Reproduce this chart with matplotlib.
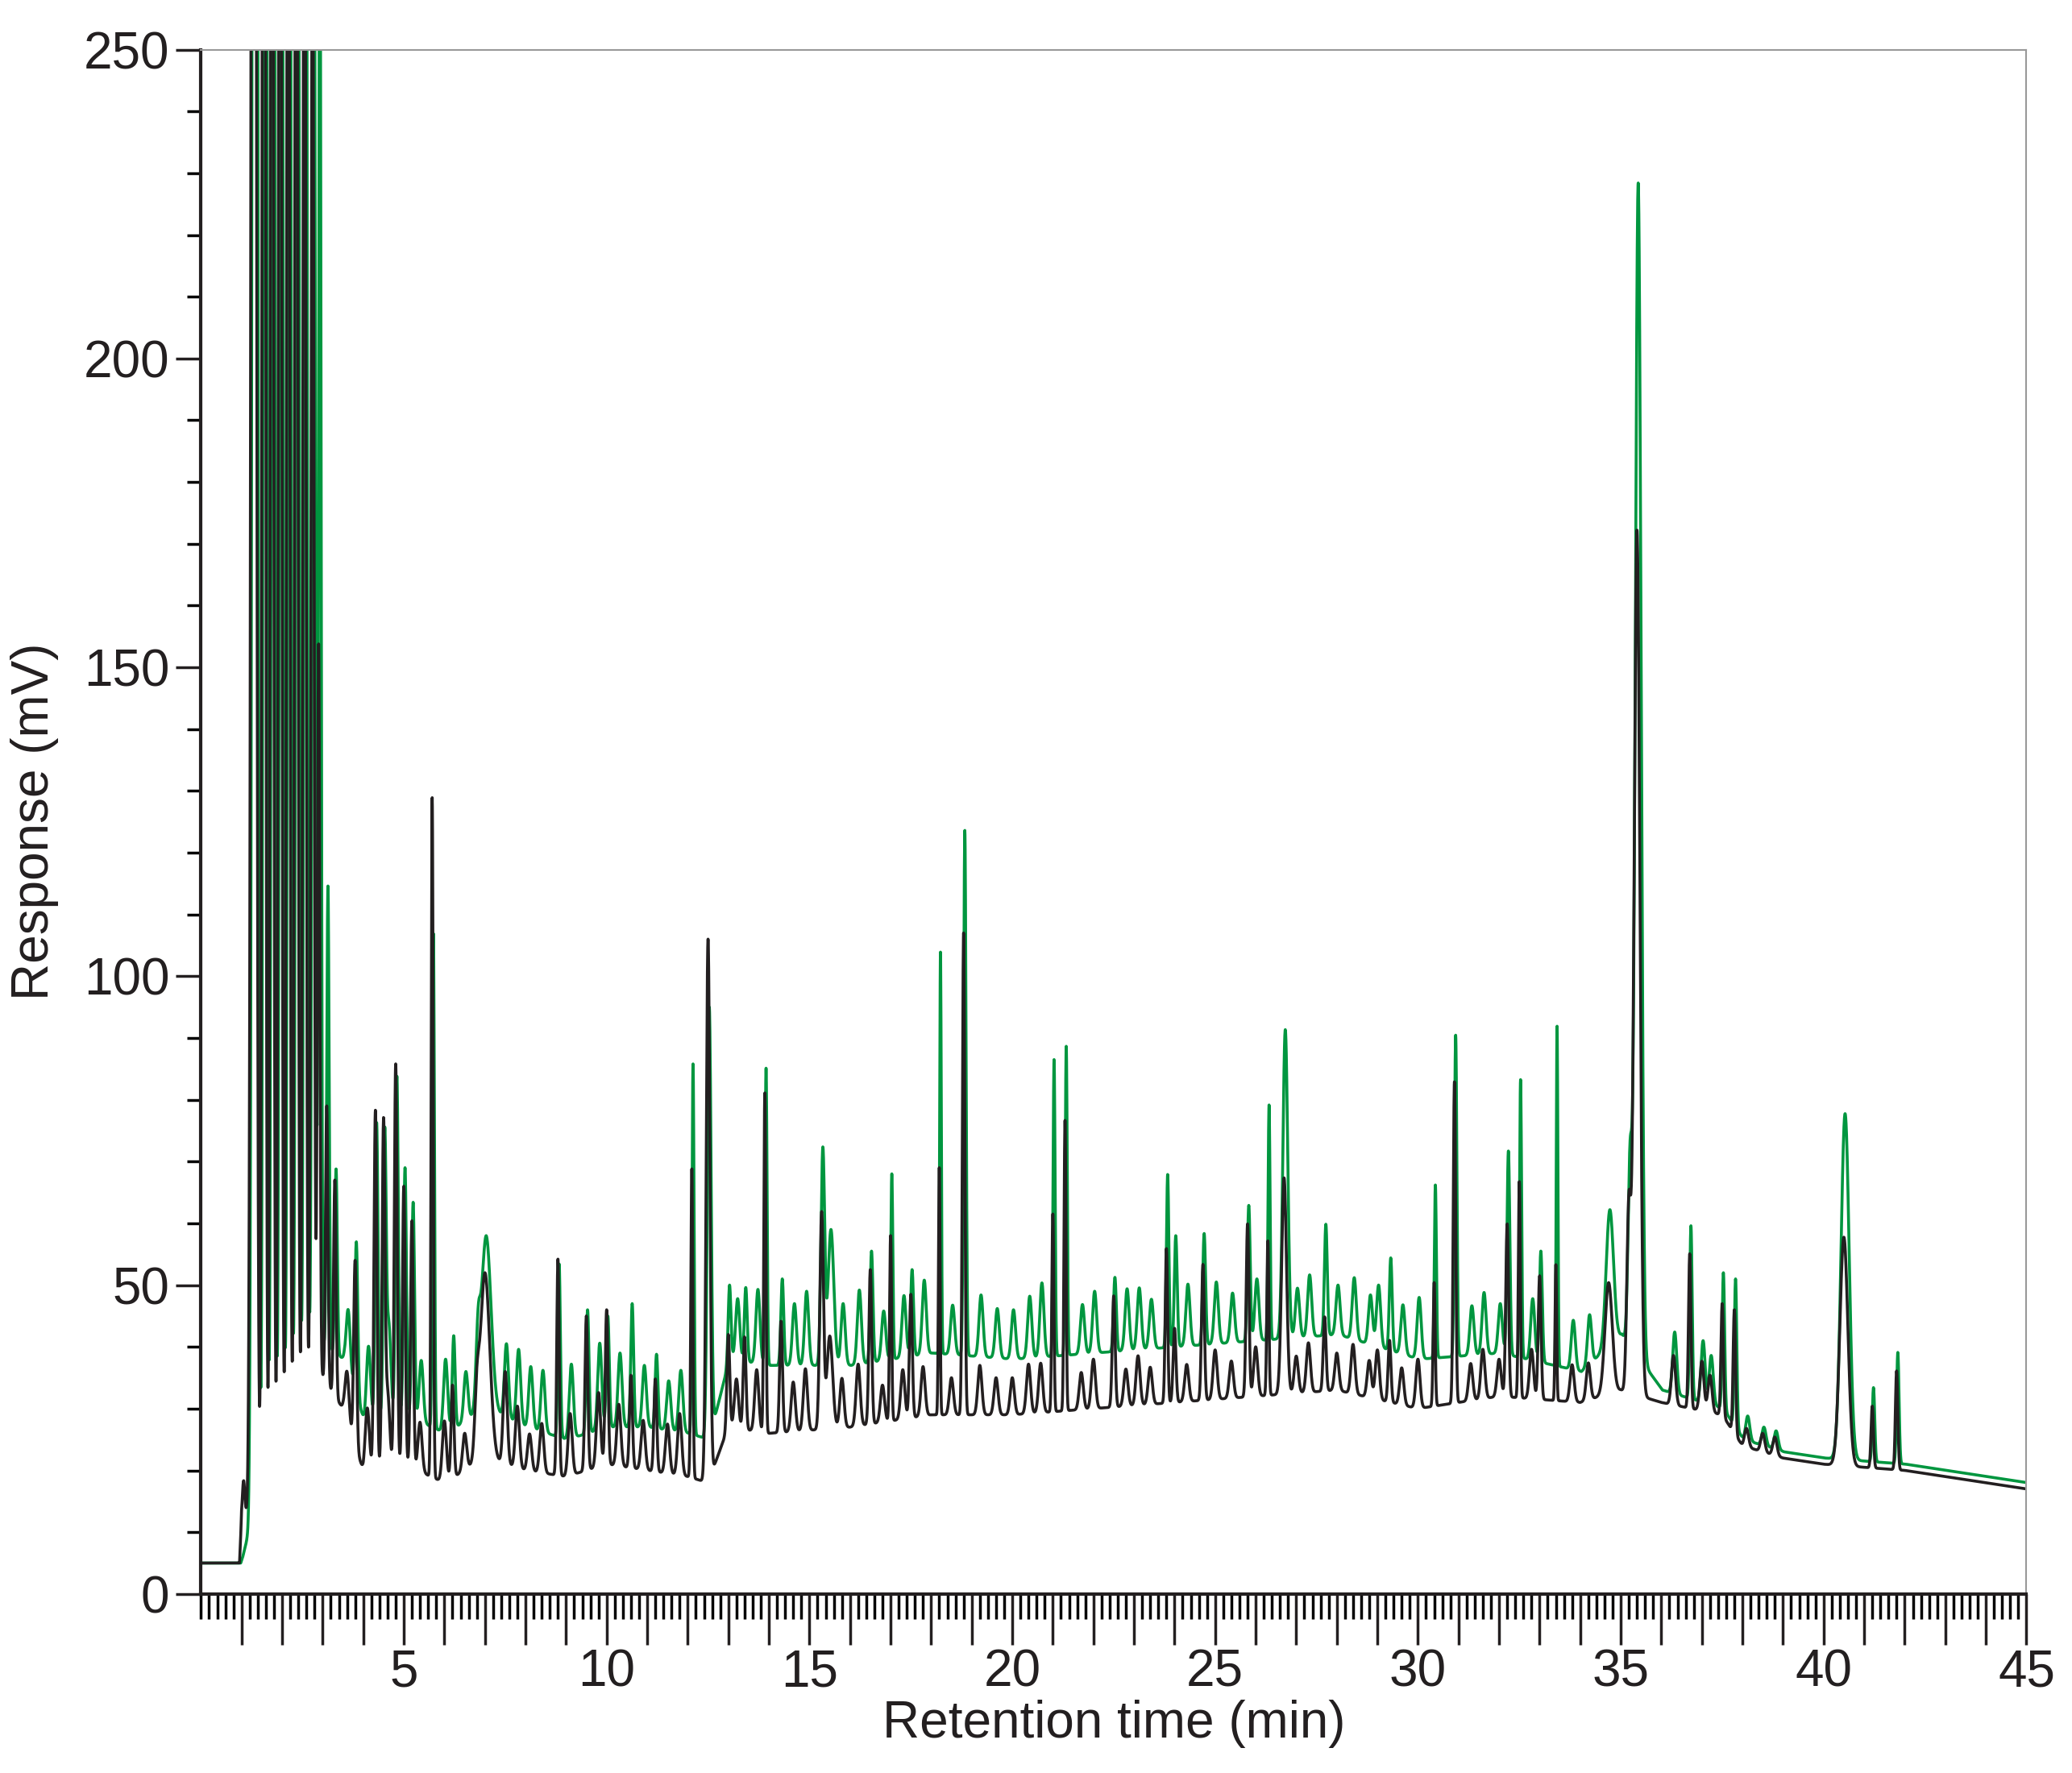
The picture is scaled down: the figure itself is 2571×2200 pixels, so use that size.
import numpy as np
import matplotlib.pyplot as plt
from matplotlib.ticker import MultipleLocator, FixedLocator, FuncFormatter

plt.rcParams['font.family'] = ['Liberation Sans', 'DejaVu Sans']

# Baseline knots (min, mV)
base_t = [0, 0.95, 1.0, 1.3, 3.0, 3.5, 4.0, 5.0, 6.0, 7.0, 8.0, 9.0, 10.0, 11.0, 12.0, 12.5,
          13.0, 14.0, 16.0, 18.0, 20.0, 22.0, 24.0, 26.0, 28.0, 30.0, 32.0, 34.0, 35.0,
          36.0, 37.5, 38.0, 39.0, 40.0, 42.0, 45.0]
base_black = [5, 5, 12, 14, 35, 30, 20, 21, 18, 22, 20, 19, 21, 20, 19, 18,
              27, 26, 27, 29, 29, 30, 31, 32, 33, 30, 32, 31, 33,
              31, 29, 24, 22, 21, 20, 17]
base_green = [5, 5, 6, 14, 40, 38, 28, 29, 26, 30, 27, 25, 27, 27, 26, 25,
              38, 37, 37, 39, 38, 39, 40, 41, 42, 38, 39, 36, 42,
              33, 30, 25, 23, 22, 21, 18]

# Peaks: retention time, width (sigma, min), height black, height green (above baseline)
peak_t = [1.05, 1.3, 1.55, 1.75, 1.95, 2.15, 2.35, 2.55, 2.75, 2.9, 3.1, 3.3, 3.8, 4.3, 4.5,
          4.8, 5.0, 5.2, 5.7, 6.2, 7.0, 7.5, 8.8, 9.5, 10.0, 10.6, 11.2, 12.1, 12.5,
          13.0, 13.4, 13.9, 14.3, 15.3, 15.5, 16.5, 17.0, 17.5, 18.2, 18.8, 21.0, 21.3,
          22.5, 23.8, 24.0, 24.7, 25.8, 26.3, 26.7, 27.7, 29.3, 30.4, 30.9, 32.2, 32.5,
          33.0, 33.4, 34.7, 35.2, 35.4, 36.7, 37.5, 37.8, 38.5, 40.5, 41.2, 41.8]
peak_w = [0.03, 0.05, 0.035, 0.035, 0.035, 0.035, 0.035, 0.035, 0.035, 0.03, 0.03, 0.03, 0.035, 0.035, 0.035,
          0.035, 0.035, 0.035, 0.025, 0.035, 0.12, 0.05, 0.03, 0.035, 0.035, 0.035, 0.035, 0.025, 0.045,
          0.035, 0.035, 0.025, 0.035, 0.045, 0.07, 0.035, 0.025, 0.035, 0.02, 0.03, 0.025, 0.025,
          0.035, 0.03, 0.035, 0.035, 0.035, 0.025, 0.06, 0.035, 0.035, 0.025, 0.03, 0.035, 0.025,
          0.035, 0.02, 0.09, 0.05, 0.07, 0.03, 0.03, 0.03, 0.05, 0.1, 0.03, 0.03]
peak_black = [6, 600, 500, 400, 400, 350, 350, 300, 250, 120, 45, 35, 30, 58, 55,
              65, 45, 40, 110, 15, 30, 15, 35, 25, 25, 15, 15, 50, 88,
              15, 15, 55, 18, 35, 15, 25, 30, 20, 40, 78, 32, 47,
              18, 25, 12, 22, 28, 25, 35, 12, 10, 20, 52, 28, 35,
              20, 22, 18, 30, 140, 25, 18, 20, 3, 37, 10, 16]
peak_green = [0, 700, 600, 500, 450, 400, 400, 350, 300, 250, 75, 30, 25, 48, 45,
              55, 40, 35, 80, 15, 28, 12, 28, 20, 18, 20, 12, 60, 70,
              12, 12, 48, 14, 35, 22, 18, 30, 14, 65, 85, 48, 50,
              12, 28, 18, 18, 22, 38, 50, 18, 15, 28, 52, 33, 45,
              18, 55, 22, 30, 190, 28, 22, 24, 3, 56, 12, 18]

# Small shoulder / noise peaks (time, height black, height green)
minor_t = [3.6, 4.1, 4.6, 5.4, 6.0, 6.5, 6.8, 7.8, 8.1, 8.4, 9.1, 9.8, 10.3, 10.9, 11.5,
           11.8, 13.2, 13.7, 14.6, 14.9, 15.8, 16.2, 16.8, 17.3, 17.8, 18.5, 19.2, 19.6,
           20.0, 20.4, 20.7, 21.7, 22.0, 22.8, 23.1, 23.4, 24.3, 25.0, 25.4, 26.0, 27.0,
           27.3, 28.0, 28.4, 28.8, 29.0, 29.6, 30.0, 31.3, 31.6, 32.0, 32.8, 33.8, 34.2,
           36.3, 37.0, 37.2, 38.1, 38.8]
minor_black = [8, 10, 12, 8, 10, 6, 8, 10, 6, 8, 10, 12, 10, 8, 8,
               10, 8, 10, 8, 10, 8, 10, 6, 8, 8, 6, 8, 6,
               6, 8, 8, 6, 8, 6, 8, 6, 6, 8, 6, 8, 6,
               8, 6, 8, 6, 8, 6, 8, 6, 8, 6, 8, 6, 6,
               8, 8, 6, 3, 3]
minor_green = [10, 12, 15, 10, 12, 8, 10, 12, 10, 10, 12, 14, 12, 10, 8,
               10, 10, 12, 10, 12, 10, 12, 8, 10, 12, 8, 10, 8,
               8, 10, 12, 8, 10, 10, 10, 8, 10, 10, 8, 10, 8,
               10, 8, 10, 8, 10, 8, 10, 8, 10, 8, 10, 8, 8,
               10, 10, 8, 4, 3]

t = np.arange(0, 45.001, 0.004)


def trace(base, heights, mheights):
    y = np.interp(t, base_t, base)
    for tc, w, h in zip(peak_t, peak_w, heights):
        y += h * np.exp(-0.5 * ((t - tc) / w) ** 2)
    for tc, h in zip(minor_t, mheights):
        y += h * np.exp(-0.5 * ((t - tc) / 0.05) ** 2)
    return y


y_black = trace(base_black, peak_black, minor_black)
y_green = trace(base_green, peak_green, minor_green)

fig = plt.figure(figsize=(25.71, 22), dpi=100)
ax = fig.add_axes([0.097, 0.101, 0.881, 0.871])
ax.plot(t + 0.03, y_green, color='#00963f', lw=2.6)
ax.plot(t, y_black, color='#231f20', lw=2.6)

ax.set_xlim(0, 45)
ax.set_ylim(0, 250)
ax.xaxis.set_major_locator(FixedLocator(np.arange(1, 46)))
ax.xaxis.set_minor_locator(MultipleLocator(0.2))
ax.xaxis.set_major_formatter(FuncFormatter(lambda v, p: f'{v:.0f}' if round(v) % 5 == 0 else ''))
ax.yaxis.set_major_locator(MultipleLocator(50))
ax.yaxis.set_minor_locator(MultipleLocator(10))
ax.tick_params(axis='x', which='major', length=45, width=2.5, labelsize=46, pad=4)
ax.tick_params(axis='x', which='minor', length=22, width=2.5)
ax.tick_params(axis='y', which='major', length=22, width=2.5, labelsize=46, pad=6)
ax.tick_params(axis='y', which='minor', length=12, width=2.5)
ax.tick_params(colors='#231f20')

for s in ['left', 'bottom']:
    ax.spines[s].set_linewidth(3)
    ax.spines[s].set_color('#231f20')
for s in ['top', 'right']:
    ax.spines[s].set_linewidth(1.5)
    ax.spines[s].set_color('#999999')

ax.set_xlabel('Retention time (min)', fontsize=46, color='#231f20', labelpad=2)
ax.set_ylabel('Response (mV)', fontsize=46, color='#231f20', labelpad=22)

fig.savefig('out.png', dpi=100)
